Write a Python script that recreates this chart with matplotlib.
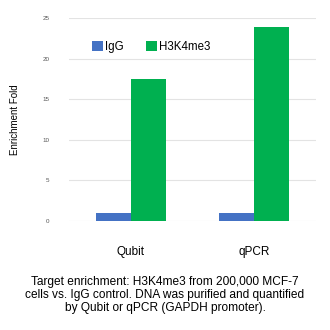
import matplotlib
matplotlib.use('Agg')
import matplotlib.pyplot as plt
import numpy as np

plt.rcParams['font.family'] = ['Liberation Sans', 'DejaVu Sans']

categories = ['Qubit', 'qPCR']
igg = [1.0, 1.0]
h3k4me3 = [17.5, 23.9]
yticks = [0, 5, 10, 15, 20, 25]
caption = ('Target enrichment: H3K4me3 from 200,000 MCF-7\n'
           'cells vs. IgG control. DNA was purified and quantified\n'
           'by Qubit or qPCR (GAPDH promoter).')

fig = plt.figure(figsize=(3.3, 3.3), dpi=100)
ax = fig.add_axes([69/330, 1-221/330, 247/330, (221-18)/330])

x = np.arange(len(categories))
w = 0.285
ax.bar(x - w/2, igg, w, color='#4472C4', label='IgG', zorder=3)
ax.bar(x + w/2, h3k4me3, w, color='#00B050', label='H3K4me3', zorder=3)

ax.set_xlim(-0.5, 1.5)
ax.set_ylim(0, 25)
ax.set_yticks(yticks)
ax.set_yticklabels([str(t) for t in yticks], fontsize=4.5, color='#555555')
ax.yaxis.grid(True, color='#e3e3e3', linewidth=0.8, zorder=0)
ax.tick_params(axis='y', length=0, pad=14)
ax.tick_params(axis='x', length=0, pad=18, labelsize=8.5)
ax.set_xticks(x)
ax.set_xticklabels(categories)
for s in ax.spines.values():
    s.set_visible(False)
ax.set_ylabel('Enrichment Fold', fontsize=7)
ax.yaxis.set_label_coords(-0.2, 0.5)

ax.legend(loc='upper left', bbox_to_anchor=(0.075, 0.91), ncol=2, frameon=False,
          fontsize=8.3, handlelength=0.9, handleheight=0.9, handletextpad=0.2,
          columnspacing=2.0, borderaxespad=0)

fig.text(0.5, 0.106, caption, ha='center', va='center', fontsize=8.6,
         linespacing=1.12)

fig.savefig('out.png', dpi=100, facecolor='white')
